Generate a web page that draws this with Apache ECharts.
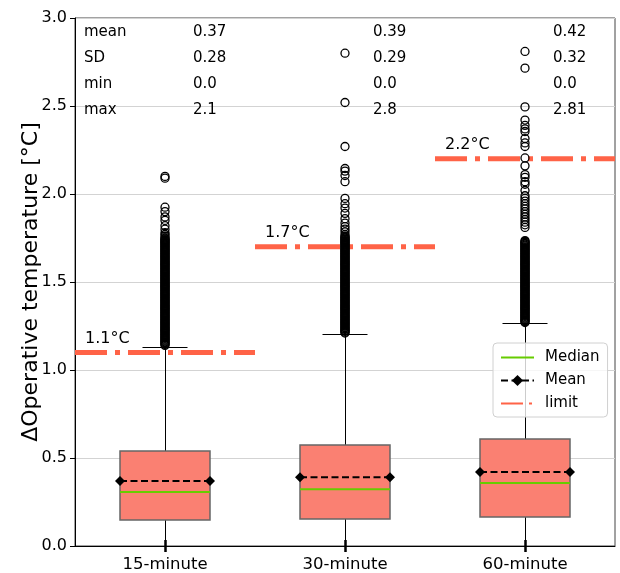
<!DOCTYPE html>
<html>
<head>
<meta charset="utf-8">
<script src="https://cdn.jsdelivr.net/npm/echarts@6/dist/echarts.min.js"></script>
<style>
  html, body { margin: 0; padding: 0; background: #fff; }
  #chart { width: 620px; height: 573px; }
</style>
</head>
<body>
<div id="chart"></div>
<script>
// Aggregation intervals shown on the x axis
const categories = ['15-minute', '30-minute', '60-minute'];

// Box statistics per interval
const q1 = [0.149, 0.153, 0.166];
const medians = [0.307, 0.322, 0.358];
const q3 = [0.541, 0.574, 0.608];
const whiskerLow = [0.0, 0.0, 0.0];
const whiskerHigh = [1.132, 1.205, 1.265];

// Summary table values
const means = [0.37, 0.39, 0.42];
const sds = [0.28, 0.29, 0.32];
const mins = [0.0, 0.0, 0.0];
const maxs = [2.1, 2.8, 2.81];

// Allowed deviation per interval
const limits = [1.1, 1.7, 2.2];

// Y axis ticks
const yTicks = [0.0, 0.5, 1.0, 1.5, 2.0, 2.5, 3.0];

// Fliers above the upper whisker
const outliers15 = [2.1, 2.09, 1.925, 1.90, 1.87, 1.85, 1.82, 1.80, 1.78, 1.77, 1.76, 1.75,
  1.745, 1.74, 1.735, 1.73, 1.725, 1.72, 1.715, 1.71, 1.705, 1.70, 1.695, 1.69, 1.685, 1.68,
  1.675, 1.67, 1.665, 1.66, 1.655, 1.65, 1.645, 1.64, 1.635, 1.63, 1.625, 1.62, 1.615, 1.61,
  1.605, 1.60, 1.595, 1.59, 1.585, 1.58, 1.575, 1.57, 1.565, 1.56, 1.555, 1.55, 1.545, 1.54,
  1.535, 1.53, 1.525, 1.52, 1.515, 1.51, 1.505, 1.50, 1.495, 1.49, 1.485, 1.48, 1.475, 1.47,
  1.465, 1.46, 1.455, 1.45, 1.445, 1.44, 1.435, 1.43, 1.425, 1.42, 1.415, 1.41, 1.405, 1.40,
  1.395, 1.39, 1.385, 1.38, 1.375, 1.37, 1.365, 1.36, 1.355, 1.35, 1.345, 1.34, 1.335, 1.33,
  1.325, 1.32, 1.315, 1.31, 1.305, 1.30, 1.295, 1.29, 1.285, 1.28, 1.275, 1.27, 1.265, 1.26,
  1.255, 1.25, 1.245, 1.24, 1.235, 1.23, 1.225, 1.22, 1.215, 1.21, 1.205, 1.20, 1.195, 1.19,
  1.185, 1.18, 1.175, 1.17, 1.165, 1.16, 1.155, 1.15, 1.145, 1.14];
const outliers30 = [2.8, 2.52, 2.27, 2.145, 2.13, 2.105, 2.07, 1.975, 1.945, 1.92, 1.89, 1.86,
  1.835, 1.815, 1.80, 1.785, 1.77, 1.76,
  1.755, 1.75, 1.745, 1.74, 1.735, 1.73, 1.725, 1.72, 1.715, 1.71, 1.705, 1.70, 1.695, 1.69,
  1.685, 1.68, 1.675, 1.67, 1.665, 1.66, 1.655, 1.65, 1.645, 1.64, 1.635, 1.63, 1.625, 1.62,
  1.615, 1.61, 1.605, 1.60, 1.595, 1.59, 1.585, 1.58, 1.575, 1.57, 1.565, 1.56, 1.555, 1.55,
  1.545, 1.54, 1.535, 1.53, 1.525, 1.52, 1.515, 1.51, 1.505, 1.50, 1.495, 1.49, 1.485, 1.48,
  1.475, 1.47, 1.465, 1.46, 1.455, 1.45, 1.445, 1.44, 1.435, 1.43, 1.425, 1.42, 1.415, 1.41,
  1.405, 1.40, 1.395, 1.39, 1.385, 1.38, 1.375, 1.37, 1.365, 1.36, 1.355, 1.35, 1.345, 1.34,
  1.335, 1.33, 1.325, 1.32, 1.315, 1.31, 1.305, 1.30, 1.295, 1.29, 1.285, 1.28, 1.275, 1.27,
  1.265, 1.26, 1.255, 1.25, 1.245, 1.24, 1.235, 1.23, 1.225, 1.22, 1.215, 1.21];
const outliers60 = [2.81, 2.715, 2.495, 2.42, 2.39, 2.37, 2.355, 2.315, 2.29, 2.27, 2.205, 2.16,
  2.11, 2.095, 2.07, 2.055, 2.02, 1.99, 1.975, 1.96, 1.945, 1.93, 1.915, 1.90, 1.885, 1.87,
  1.855, 1.84, 1.825, 1.81,
  1.735, 1.73, 1.725, 1.72, 1.715, 1.71, 1.705, 1.70, 1.695, 1.69, 1.685, 1.68, 1.675, 1.67,
  1.665, 1.66, 1.655, 1.65, 1.645, 1.64, 1.635, 1.63, 1.625, 1.62, 1.615, 1.61, 1.605, 1.60,
  1.595, 1.59, 1.585, 1.58, 1.575, 1.57, 1.565, 1.56, 1.555, 1.55, 1.545, 1.54, 1.535, 1.53,
  1.525, 1.52, 1.515, 1.51, 1.505, 1.50, 1.495, 1.49, 1.485, 1.48, 1.475, 1.47, 1.465, 1.46,
  1.455, 1.45, 1.445, 1.44, 1.435, 1.43, 1.425, 1.42, 1.415, 1.41, 1.405, 1.40, 1.395, 1.39,
  1.385, 1.38, 1.375, 1.37, 1.365, 1.36, 1.355, 1.35, 1.345, 1.34, 1.335, 1.33, 1.325, 1.32,
  1.315, 1.31, 1.305, 1.30, 1.295, 1.29, 1.285, 1.28, 1.275, 1.27];
const outlierGroups = [outliers15, outliers30, outliers60];

const statNames = ['mean', 'SD', 'min', 'max'];

// ---- styling ----
const FONT = 'DejaVu Sans';
const BOX_FILL = '#fa8072';
const BOX_EDGE = '#666666';
const MEDIAN_COLOR = '#66cc00';
const LIMIT_COLOR = '#ff6347';
const HALF_BOX = 0.25;   // half box width in category units
const HALF_CAP = 0.125;  // half whisker-cap width
const HIDDEN = { color: 'rgba(0,0,0,0)', borderColor: 'rgba(0,0,0,0)', borderWidth: 0, opacity: 0 };

const fmt = v => Number.isInteger(v) ? v.toFixed(1) : String(v);
const crisp = v => Math.round(v) + 0.5;

const chart = echarts.init(document.getElementById('chart'), null, { renderer: 'canvas' });

const series = [];

// Limit lines spanning each category band
limits.forEach((lim, i) => {
  series.push({
    name: 'limit', type: 'line', xAxisIndex: 2, z: 2,
    data: [[i - 0.5, lim], [i + 0.5, lim]],
    symbol: 'none', silent: true,
    lineStyle: { color: LIMIT_COLOR, width: 5, type: [32, 8, 5, 8], cap: 'butt' },
    itemStyle: { color: LIMIT_COLOR }
  });
});

// Limit captions
series.push({
  type: 'scatter', xAxisIndex: 2, z: 8, symbolSize: 0, silent: true,
  data: limits.map((lim, i) => [i - 0.444, lim]),
  itemStyle: { opacity: 1 },
  label: {
    show: true, position: 'right', distance: 0, offset: [0, -14],
    formatter: p => p.value[1] + '°C',
    fontFamily: FONT, fontSize: 16, color: '#000', opacity: 1
  }
});

// Boxes and whiskers
series.push({
  type: 'custom', xAxisIndex: 2, z: 3, silent: true,
  data: categories.map((c, i) => [i, whiskerLow[i], q1[i], q3[i], whiskerHigh[i]]),
  renderItem: (params, api) => {
    const i = api.value(0);
    const wl = api.value(1), lo = api.value(2), hi = api.value(3), wh = api.value(4);
    const c = crisp(api.coord([i, 0])[0]);
    const left = Math.round(api.coord([i - HALF_BOX, lo])[0]);
    const right = Math.round(api.coord([i + HALF_BOX, lo])[0]);
    const yLo = Math.round(api.coord([i, lo])[1]);
    const yHi = Math.round(api.coord([i, hi])[1]);
    const yWl = crisp(api.coord([i, wl])[1]);
    const yWh = crisp(api.coord([i, wh])[1]);
    const capL = api.coord([i - HALF_CAP, wh])[0];
    const capR = api.coord([i + HALF_CAP, wh])[0];
    const wStyle = { stroke: '#000', lineWidth: 1 };
    return {
      type: 'group',
      children: [
        { type: 'line', shape: { x1: c, y1: yHi, x2: c, y2: yWh }, style: wStyle },
        { type: 'line', shape: { x1: c, y1: yLo, x2: c, y2: yWl }, style: wStyle },
        { type: 'line', shape: { x1: capL, y1: yWh, x2: capR, y2: yWh }, style: wStyle },
        { type: 'line', shape: { x1: capL, y1: yWl, x2: capR, y2: yWl }, style: wStyle },
        { type: 'rect', shape: { x: left, y: yHi, width: right - left, height: yLo - yHi },
          style: { fill: BOX_FILL, stroke: BOX_EDGE, lineWidth: 1.5 } }
      ]
    };
  }
});

// Fliers
outlierGroups.forEach((vals, i) => {
  series.push({
    type: 'scatter', xAxisIndex: 2, z: 4, silent: true,
    data: vals.map(v => [i, v]),
    symbol: 'circle', symbolSize: 8,
    itemStyle: { color: 'rgba(0,0,0,0)', borderColor: '#000', borderWidth: 1.3, opacity: 1 }
  });
});

// Medians
medians.forEach((m, i) => {
  series.push({
    name: 'Median', type: 'line', xAxisIndex: 2, z: 5, silent: true,
    data: [[i - HALF_BOX, m], [i + HALF_BOX, m]],
    symbol: 'none',
    lineStyle: { color: MEDIAN_COLOR, width: 2 },
    itemStyle: { color: MEDIAN_COLOR }
  });
});

// Means
means.forEach((m, i) => {
  series.push({
    name: 'Mean', type: 'line', xAxisIndex: 2, z: 6, silent: true,
    data: [[i - HALF_BOX, m], [i + HALF_BOX, m]],
    symbol: 'diamond', symbolSize: 10, showSymbol: true,
    lineStyle: { color: '#000', width: 2, type: [7, 3.5] },
    itemStyle: { color: '#000' }
  });
});

// Summary table
const labelX = 84;
const valueX = [193, 373, 553];
const rowY = [31, 57, 83, 109];
const tableRows = [means, sds, mins, maxs];
const graphic = [];
statNames.forEach((name, r) => {
  graphic.push({ type: 'text', left: labelX, top: rowY[r] - 6, z: 100,
    style: { text: name, fontFamily: FONT, fontSize: 15, fill: '#000' } });
  tableRows[r].forEach((v, i) => {
    graphic.push({ type: 'text', left: valueX[i], top: rowY[r] - 6, z: 100,
      style: { text: fmt(v), fontFamily: FONT, fontSize: 15, fill: '#000' } });
  });
});

const option = {
  animation: false,
  backgroundColor: '#fff',
  textStyle: { fontFamily: FONT },
  grid: { left: 75, right: 5, top: 18, bottom: 27, show: true, borderColor: '#444', borderWidth: 1, containLabel: false },
  legend: {
    data: [
      { name: 'Median', itemStyle: HIDDEN },
      { name: 'Mean', itemStyle: { color: '#000', borderWidth: 0 } },
      { name: 'limit', itemStyle: HIDDEN, lineStyle: { type: [22, 6, 3, 6] } }
    ],
    orient: 'vertical', left: 493, top: 343,
    itemWidth: 33, itemHeight: 14, itemGap: 8,
    padding: [7, 8, 6, 7],
    backgroundColor: 'rgba(255,255,255,0.8)',
    borderColor: '#d0d0d0', borderWidth: 1, borderRadius: 4,
    selectedMode: false,
    textStyle: { fontFamily: FONT, fontSize: 15, color: '#000', padding: [0, 0, 0, 6] }
  },
  xAxis: [
    {
      type: 'category', data: categories, position: 'bottom',
      axisLine: { show: true, onZero: false, lineStyle: { color: '#000', width: 1 } },
      axisTick: { show: true, alignWithLabel: true, length: 6, inside: false, lineStyle: { color: '#000', width: 2.5 } },
      axisLabel: { fontFamily: FONT, fontSize: 16.5, color: '#000', margin: 10 },
      splitLine: { show: false }
    },
    {
      type: 'category', data: categories, position: 'bottom',
      axisLine: { show: false, onZero: false },
      axisTick: { show: true, alignWithLabel: true, length: 6, inside: true, lineStyle: { color: '#000', width: 2.5 } },
      axisLabel: { show: false },
      splitLine: { show: false }
    },
    { type: 'value', min: -0.5, max: 2.5, show: false, axisLine: { onZero: false } }
  ],
  yAxis: {
    type: 'value', position: 'left',
    min: yTicks[0], max: yTicks[yTicks.length - 1], interval: yTicks[1] - yTicks[0],
    name: 'ΔOperative temperature [°C]', nameLocation: 'middle', nameGap: 33, nameMoveOverlap: false,
    nameTextStyle: { fontFamily: FONT, fontSize: 22, color: '#000' },
    axisLine: { show: true, onZero: false, lineStyle: { color: '#000', width: 1 } },
    axisTick: { show: true, length: 5, lineStyle: { color: '#000', width: 1 } },
    axisLabel: { fontFamily: FONT, fontSize: 16, color: '#000', margin: 8, formatter: v => v.toFixed(1) },
    splitLine: { show: true, lineStyle: { color: '#d3d3d3', width: 1 } }
  },
  graphic: graphic,
  series: series
};

chart.setOption(option);
</script>
</body>
</html>
